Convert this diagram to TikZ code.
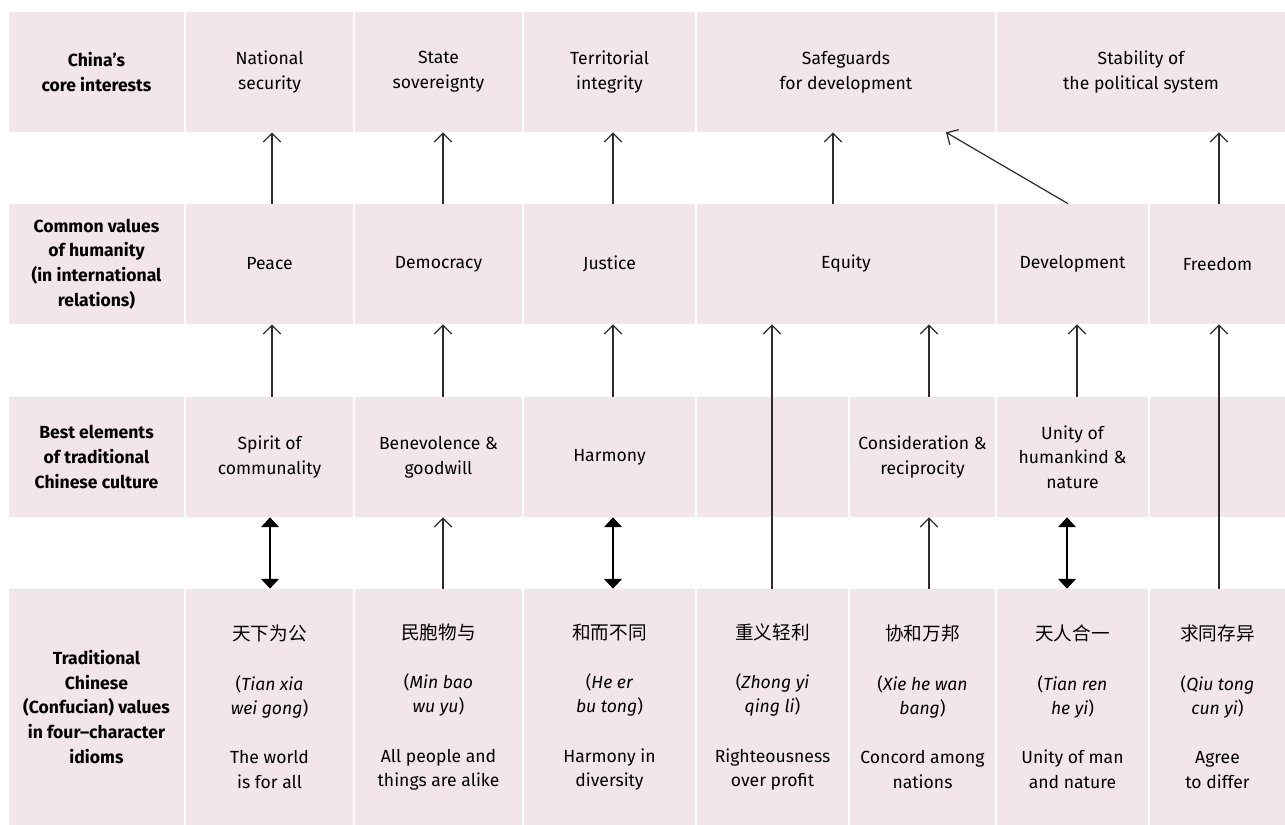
\documentclass[tikz,border=0pt]{standalone}
\usepackage{fontspec}
\setmainfont{Fira Sans}
\newfontfamily\cjk{Noto Sans CJK SC}
\usetikzlibrary{arrows.meta,calc}
\definecolor{cellpink}{RGB}{243,230,235}
\definecolor{linegray}{RGB}{45,45,45}

\newcommand{\idiom}[5]{{\cjk\fontsize{10.6}{14}\selectfont #1}\\[14pt](\textit{#2}\\\textit{#3})\\[14pt]#4\\#5}

\begin{document}
\begin{tikzpicture}[x=0.02cm, y=-0.02cm,
    cell/.style={fill=cellpink, inner sep=0pt, align=center,
      font=\fontsize{10}{14}\selectfont},
    rowlabel/.style={cell, font=\fontsize{10}{14}\selectfont\bfseries},
    up/.style={draw=linegray, line width=0.7pt, -{Straight Barb[length=5pt,width=10pt]}},
    both/.style={draw=black, line width=0.7pt,
      {Triangle[length=5.5pt,width=10pt]}-{Triangle[length=5.5pt,width=10pt]}}]
  \useasboundingbox (0,0) rectangle (1285,825);
  % one row of cells: top, bottom, name/left/right/text
  \newcommand{\rowcells}[4][cell]{
    \foreach \n/\l/\r/\t in {#4} {
      \node[#1, minimum width={(\r-\l)*0.02cm}, minimum height={(#3-#2)*0.02cm}]
        (\n) at ({(\l+\r)/2}, {(#2+#3)/2}) {\t};
    }}
  % row labels
  \rowcells[rowlabel]{12}{132}{lab1/9/184/{China’s\\core interests}}
  \rowcells[rowlabel]{204}{324}{lab2/9/184/{Common values\\of humanity\\(in international\\relations)}}
  \rowcells[rowlabel]{397}{517}{lab3/9/184/{Best elements\\of traditional\\Chinese culture}}
  \rowcells[rowlabel]{589}{825}{lab4/9/184/{Traditional\\Chinese\\(Confucian) values\\in four–character\\idioms}}
  % core interests
  \rowcells{12}{132}{core1/186/353/{National\\security}, core2/355/522/{State\\sovereignty},
    core3/524/695/{Territorial\\integrity}, core4/697/995/{Safeguards\\for development},
    core5/997/1285/{Stability of\\the political system}}
  % common values
  \rowcells{204}{324}{val1/186/353/Peace, val2/355/522/Democracy, val3/524/695/Justice,
    val4/697/995/Equity, val5/997/1148/Development, val6/1150/1285/Freedom}
  % culture
  \rowcells{397}{517}{cul1/186/353/{Spirit of\\communality}, cul2/355/522/{Benevolence \&\\goodwill},
    cul3/524/695/Harmony, cul4/697/848/{}, cul5/850/995/{Consideration \&\\reciprocity},
    cul6/997/1148/{Unity of\\humankind \&\\nature}, cul7/1150/1285/{}}
  % idioms
  \rowcells{589}{825}{
    idm1/186/353/{\idiom{天下为公}{Tian xia}{wei gong}{The world}{is for all}},
    idm2/355/522/{\idiom{民胞物与}{Min bao}{wu yu}{All people and}{things are alike}},
    idm3/524/695/{\idiom{和而不同}{He er}{bu tong}{Harmony in}{diversity}},
    idm4/697/848/{\idiom{重义轻利}{Zhong yi}{qing li}{Righteousness}{over profit}},
    idm5/850/995/{\idiom{协和万邦}{Xie he wan}{bang}{Concord among}{nations}},
    idm6/997/1148/{\idiom{天人合一}{Tian ren}{he yi}{Unity of man}{and nature}},
    idm7/1150/1285/{\idiom{求同存异}{Qiu tong}{cun yi}{Agree}{to differ}}}
  % upward links
  \foreach \a/\b/\dx in {val1/core1/2.5, val2/core2/4.5, val3/core3/3.5, val4/core4/-13,
      val6/core5/1.5, cul1/val1/2.5, cul2/val2/4.5, cul3/val3/3.5, cul5/val4/6.5,
      cul6/val5/4.5, idm2/cul2/4.5, idm4/val4/-0.5, idm5/cul5/6.5, idm7/val6/1.5} {
    \coordinate (s) at ($(\a.north)+(\dx,0)$);
    \draw[up] (s) -- (s |- \b.south);
  }
  \draw[up] ($(val5.north)+(-4.5,0)$) -- ($(core4.south)+(100,0)$);
  % two-way links
  \foreach \a/\b/\dx in {cul1/idm1/0.5, cul3/idm3/3.5, cul6/idm6/-5.5} {
    \coordinate (s) at ($(\a.south)+(\dx,0)$);
    \draw[both] (s) -- (s |- \b.north);
  }
\end{tikzpicture}
\end{document}
